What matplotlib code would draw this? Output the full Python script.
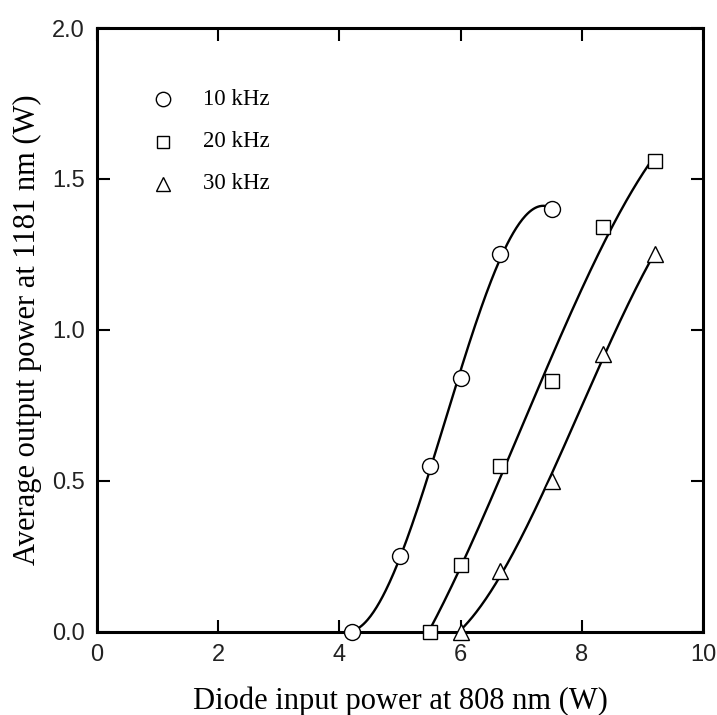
import numpy as np
import matplotlib
matplotlib.use("Agg")
import matplotlib.pyplot as plt

# data
x_10 = [4.2, 5.0, 5.5, 6.0, 6.65, 7.5]
y_10 = [0.0, 0.25, 0.55, 0.84, 1.25, 1.40]
x_20 = [5.5, 6.0, 6.65, 7.5, 8.35, 9.2]
y_20 = [0.0, 0.22, 0.55, 0.83, 1.34, 1.56]
x_30 = [6.0, 6.65, 7.5, 8.35, 9.2]
y_30 = [0.0, 0.20, 0.50, 0.92, 1.25]
labels = ["10 kHz", "20 kHz", "30 kHz"]

serif = "Liberation Serif"
sans = "Liberation Sans"

fig = plt.figure(figsize=(7.17, 7.15), dpi=100)
ax = fig.add_axes([0.1353, 0.1165, 0.8452, 0.8443])

series = [(x_10, y_10, "o", 11.5), (x_20, y_20, "s", 10), (x_30, y_30, "^", 11)]
for xs, ys, m, ms in series:
    c = np.polyfit(xs, ys, 3)
    xf = np.linspace(xs[0], xs[-1], 200)
    ax.plot(xf, np.polyval(c, xf), color="black", lw=1.7, zorder=2)
    ax.plot(xs, ys, m, ms=ms, mfc="white", mec="black", mew=1.0, ls="none",
            zorder=3, clip_on=False)

# legend drawn by hand
for i, (lab, (_, _, m, ms)) in enumerate(zip(labels, series)):
    yy = 0.882 - i * 0.07
    ax.plot([0.109], [yy], m, ms=ms * 0.9, mfc="white", mec="black", mew=1.0,
            transform=ax.transAxes)
    ax.text(0.175, yy, lab, transform=ax.transAxes, va="center", ha="left",
            fontsize=16.5, family=serif)

ax.set_xlim(0, 10)
ax.set_ylim(0, 2.0)
ax.set_xticks([0, 2, 4, 6, 8, 10])
ax.set_yticks([0, 0.5, 1.0, 1.5, 2.0])
ax.set_yticklabels(["0.0", "0.5", "1.0", "1.5", "2.0"])
ax.tick_params(direction="in", length=9, width=1.5, top=True, right=True,
               labelsize=17, pad=9, labelcolor="#222222")
for lab in ax.get_xticklabels() + ax.get_yticklabels():
    lab.set_family(sans)
for s in ax.spines.values():
    s.set_linewidth(2.2)

ax.set_xlabel("Diode input power at 808 nm (W)", family=serif, fontsize=22)
ax.set_ylabel("Average output power at 1181 nm (W)", family=serif, fontsize=22)
ax.xaxis.set_label_coords(0.5, -0.09)
ax.yaxis.set_label_coords(-0.09, 0.5)

fig.savefig("out.png", dpi=100)
